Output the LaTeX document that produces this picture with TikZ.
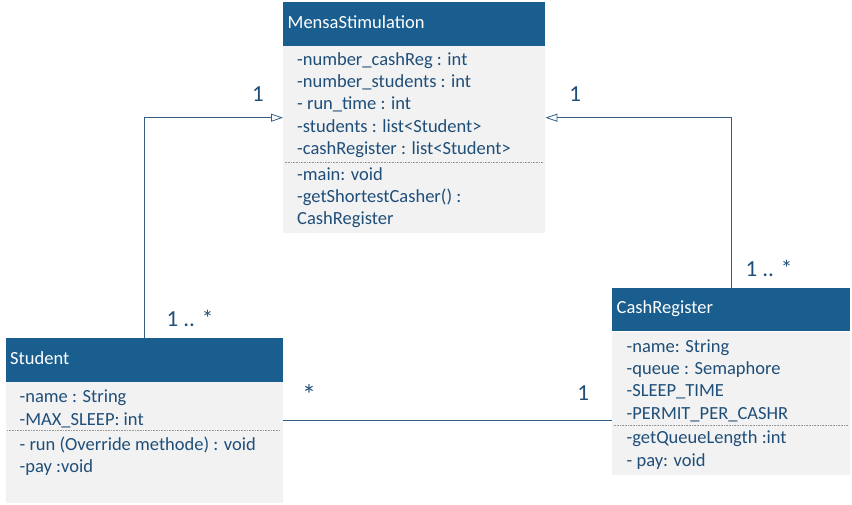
\documentclass[tikz,border=0pt]{standalone}
\usepackage{fontspec}
\setmainfont{Carlito}
\usetikzlibrary{arrows.meta}

\definecolor{umlhead}{RGB}{26,94,143}
\definecolor{umlbody}{RGB}{242,242,242}
\definecolor{umltext}{RGB}{31,78,121}
\definecolor{umlline}{RGB}{52,94,132}

\tikzset{
  classhead/.style={fill=umlhead, text=white, anchor=north west, inner xsep=4.5pt, inner ysep=0pt,
    minimum height=43.5pt, align=left, font=\fontsize{18.5}{22.2}\selectfont, execute at begin node=\strut},
  classbody/.style={fill=umlbody, anchor=north west, inner sep=0pt},
  members/.style={anchor=north west, inner sep=0pt, align=left, text=umltext,
    font=\fontsize{18.5}{22.2}\selectfont, execute at begin node=\strut},
  sepline/.style={densely dotted, line width=0.6pt, gray!80},
  assoc/.style={umlline, line width=0.8pt},
  mult/.style={text=umltext, font=\fontsize{23}{25}\selectfont},
}

\begin{document}
\begin{tikzpicture}[x=1pt,y=-1pt]
\useasboundingbox (0,0) rectangle (852,504);

% MensaStimulation
\node[classhead, text width=253pt] (mensah) at (283,2) {MensaStimulation};
\node[classbody, minimum width=262pt, minimum height=187pt] (mensab) at (mensah.south west) {};
\node[members] (mensaattr) at (297,52.5) {-number\_cashReg : int\\-number\_students : int\\- run\_time : int\\-students : list\textless Student\textgreater\\-cashRegister : list\textless Student\textgreater};
\coordinate (mensasep) at (0,162.3);
\draw[sepline] ([xshift=1.5pt]mensab.west |- mensasep) -- ([xshift=-3pt]mensab.east |- mensasep);
\node[members] (mensameth) at (297,167.3) {-main: void\\-getShortestCasher() :\\CashRegister};

% Student
\node[classhead, text width=268.5pt] (studenth) at (5.5,338) {Student};
\node[classbody, minimum width=277.5pt, minimum height=121pt] (studentb) at (studenth.south west) {};
\node[members] (studentattr) at (19.5,390) {-name : String\\-MAX\_SLEEP: int};
\coordinate (studentsep) at (0,430.7);
\draw[sepline] ([xshift=1.5pt]studentb.west |- studentsep) -- ([xshift=-3pt]studentb.east |- studentsep);
\node[members] (studentmeth) at (19.5,436.5) {- run (Override methode) : void\\-pay :void};

% CashRegister
\node[classhead, text width=229pt] (cashh) at (612,287.5) {CashRegister};
\node[classbody, minimum width=238pt, minimum height=143pt] (cashb) at (cashh.south west) {};
\node[members] (cashattr) at (626.5,339.5) {-name: String\\-queue : Semaphore\\-SLEEP\_TIME\\-PERMIT\_PER\_CASHR};
\coordinate (cashsep) at (0,425.7);
\draw[sepline] ([xshift=1.5pt]cashb.west |- cashsep) -- ([xshift=-2pt]cashb.east |- cashsep);
\node[members] (cashmeth) at (626.5,430.8) {-getQueueLength :int\\- pay: void};

% connectors
\coordinate (mensain) at (0,117.7);
\draw[assoc, -{Triangle[open, length=12pt, width=8pt]}] (studenth.north) |- (mensab.west |- mensain);
\draw[assoc, -{Triangle[open, length=12pt, width=8pt]}] (cashh.north) |- (mensab.east |- mensain);
\coordinate (assocrow) at (0,420.7);
\draw[assoc] (studentb.east |- assocrow) -- (cashb.west |- assocrow);

% multiplicities
\node[mult] (m1) at (258,94) {1};
\node[mult] (m2) at (575.3,94) {1};
\node[mult] (m3) at (190,318) {1 .. *};
\node[mult] (m4) at (769,268) {1 .. *};
\node[mult, font=\fontsize{28}{30}\selectfont] (m5) at (309,395) {*};
\node[mult] (m6) at (583.3,393) {1};
\end{tikzpicture}
\end{document}
